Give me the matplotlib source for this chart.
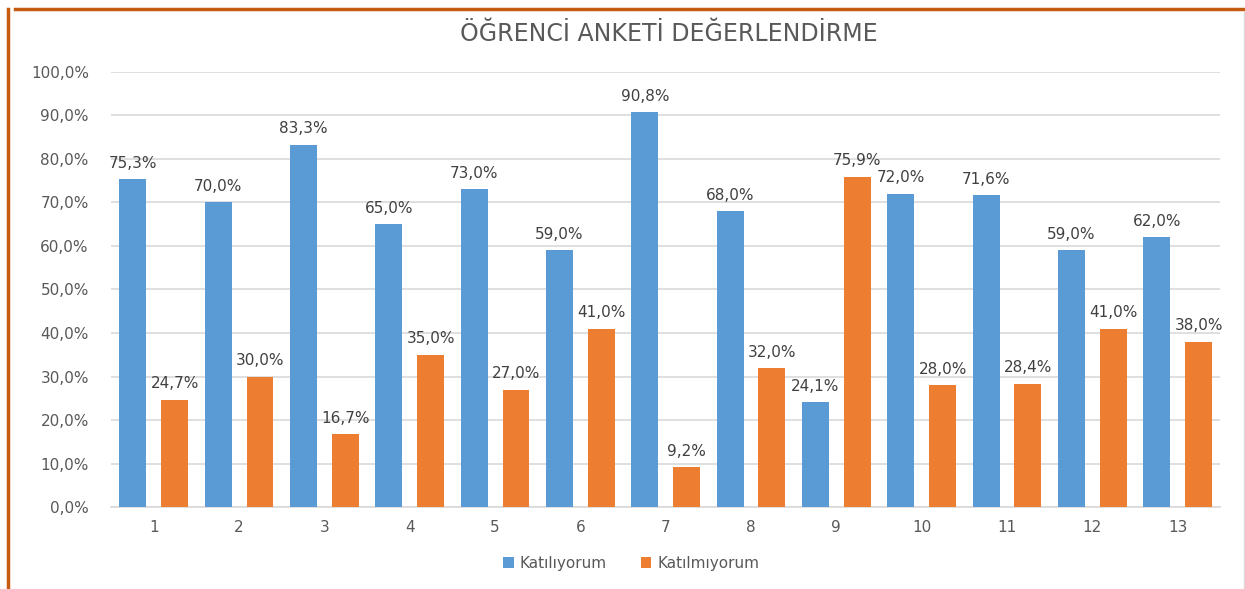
import numpy as np
import matplotlib.pyplot as plt
from matplotlib.lines import Line2D

# survey results
questions = ["1", "2", "3", "4", "5", "6", "7", "8", "9", "10", "11", "12", "13"]
katiliyorum = [75.3, 70.0, 83.3, 65.0, 73.0, 59.0, 90.8, 68.0, 24.1, 72.0, 71.6, 59.0, 62.0]
katilmiyorum = [24.7, 30.0, 16.7, 35.0, 27.0, 41.0, 9.2, 32.0, 75.9, 28.0, 28.4, 41.0, 38.0]
yticks = [0, 10, 20, 30, 40, 50, 60, 70, 80, 90, 100]

plt.rcParams['font.family'] = ['DejaVu Sans']

fig = plt.figure(figsize=(12.45, 5.89), dpi=100)
ax = fig.add_axes([0.0892, 0.139, 0.891, 0.739])

x = np.arange(len(questions))
w = 0.315
off = 0.245
b1 = ax.bar(x - off, katiliyorum, w, color='#5b9bd5', label='Katılıyorum', zorder=3)
b2 = ax.bar(x + off, katilmiyorum, w, color='#ed7d31', label='Katılmıyorum', zorder=3)

def fmt(v):
    return ('%.1f%%' % v).replace('.', ',')

for bars, vals in ((b1, katiliyorum), (b2, katilmiyorum)):
    for b, v in zip(bars, vals):
        ax.annotate(fmt(v), (b.get_x() + b.get_width() / 2, v), xytext=(0, 6),
                    textcoords='offset points', ha='center', va='bottom',
                    fontsize=11, color='#404040')

ax.set_xlim(-0.5, len(questions) - 0.5)
ax.set_ylim(0, 100)
ax.set_yticks(yticks)
ax.set_yticklabels([fmt(v) for v in yticks])
ax.set_xticks(x)
ax.set_xticklabels(questions)
ax.tick_params(length=0, labelsize=11, colors='#595959', pad=9)
ax.tick_params(axis='y', pad=16)
ax.grid(axis='y', color='#d9d9d9', linewidth=1.2, zorder=0)
for s in ['top', 'right', 'left']:
    ax.spines[s].set_visible(False)
ax.spines['bottom'].set_color('#d9d9d9')
ax.spines['bottom'].set_linewidth(1.2)

fig.text(0.537, 0.943, 'ÖĞRENCİ ANKETİ DEĞERLENDİRME', ha='center', va='center',
         fontsize=17, color='#595959')

fig.legend(handles=[b1, b2], loc='center', bbox_to_anchor=(0.507, 0.043), ncol=2,
           frameon=False, fontsize=11, labelcolor='#595959', handlelength=0.7,
           handleheight=0.7, columnspacing=2.2, handletextpad=0.4)

# orange frame on top and left, faint grey at right
fig.add_artist(Line2D([0.012, 1.0], [0.985, 0.985], color='#c55a11', linewidth=2.5))
fig.add_artist(Line2D([0.0065, 0.0065], [0.0, 0.985], color='#c55a11', linewidth=2.5))
fig.add_artist(Line2D([0.999, 0.999], [0.0, 0.98], color='#d9d9d9', linewidth=1))

fig.savefig('out.png')
